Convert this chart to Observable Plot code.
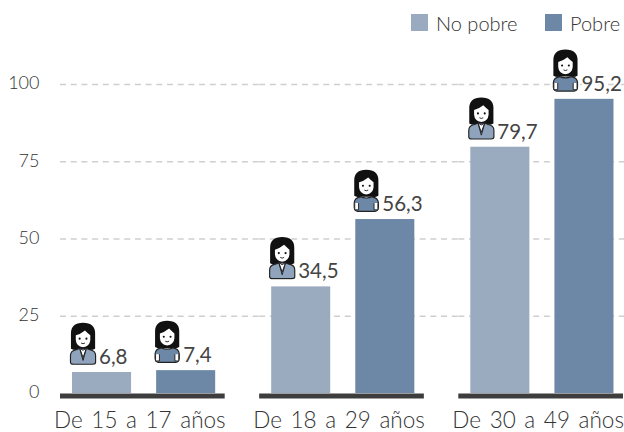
<!DOCTYPE html>
<html><head><meta charset="utf-8">
<script src="https://cdn.jsdelivr.net/npm/d3@7"></script>
<script src="https://cdn.jsdelivr.net/npm/@observablehq/plot@0.6"></script>
<style>
html,body{margin:0;padding:0;background:#fff;width:624px;height:432px;overflow:hidden}
#legend{height:36px;position:relative;font:300 20px Lato,sans-serif;color:#333}
#legend .s{position:absolute;top:14px;width:17px;height:17px}
#legend .t{position:absolute;top:11px;line-height:24px;white-space:nowrap}
svg{display:block}
.cat text{word-spacing:2.5px}
</style></head><body>
<div id="legend"></div>
<div id="chart"></div>
<script>
const groups = ["De 15 a 17 años", "De 18 a 29 años", "De 30 a 49 años"];
const series = ["No pobre", "Pobre"];
const noPobre = [6.8, 34.5, 79.7];
const pobre = [7.4, 56.3, 95.2];
const colors = ["#9aaabf", "#6d88a6"];
const yTicks = [0, 25, 50, 75, 100];

const rows = groups.flatMap((g, i) => [
  {group: g, serie: series[0], value: noPobre[i]},
  {group: g, serie: series[1], value: pobre[i]}
]);

function icon(suit) {
  const body = suit
    ? `<path d="M2 42 V35 Q2 30 8 29 L12 27.5 L18 27.5 L22 29 Q28 30 28 35 V42 Q28 44 25 44 H5 Q2 44 2 42Z" fill="#8fa3bd" stroke="#222" stroke-width="1.2"/>
       <path d="M11.5 27.5 L15 37 L18.5 27.5 L15 29.5Z" fill="#fff" stroke="#222" stroke-width="1"/>
       <path d="M11.5 27.5 L15 40 L18.5 27.5" fill="none" stroke="#222" stroke-width="1"/>`
    : `<path d="M2.5 40 V35 Q3 30 9 29 Q15 31.5 21 29 Q27 30 27.5 35 V40 Q27 44 24 44 H6 Q3 44 2.5 40Z" fill="#6d88a6" stroke="#222" stroke-width="1.2"/>
       <path d="M3 35.5 V42.5 H7 V35.5 M27 35.5 V42.5 H23 V35.5" fill="#fff" stroke="#222" stroke-width="1"/>`;
  const svg = `<svg xmlns="http://www.w3.org/2000/svg" viewBox="0 0 30 45" width="30" height="45">
    <rect x="0" y="20" width="30" height="25" fill="#fff"/>
    <path d="M2.5 28 V12 Q2.5 1 15 1 Q27.5 1 27.5 12 V28 Q24 30 20 29 H10 Q6 30 2.5 28Z" fill="#111"/>
    <path d="M7.5 14 Q12 13 17 9 Q20 12 22.5 14 V19 Q22 25.5 15 26.5 Q8 25.5 7.5 19Z" fill="#fff"/>
    <circle cx="11.5" cy="17.5" r="1.1" fill="#111"/><circle cx="18.5" cy="17.5" r="1.1" fill="#111"/>
    <path d="M13 22 Q15 23.5 17 22" fill="none" stroke="#111" stroke-width="0.9"/>
    ${body}</svg>`;
  return "data:image/svg+xml;utf8," + encodeURIComponent(svg);
}
const icons = {[series[0]]: icon(true), [series[1]]: icon(false)};

const chart = Plot.plot({
  width: 624, height: 396,
  marginLeft: 60, marginRight: 1, marginTop: 48, marginBottom: 39,
  style: {fontFamily: "Lato, sans-serif", background: "#fff", overflow: "hidden"},
  fx: {domain: groups, label: null, paddingInner: 0.173, paddingOuter: 0, round: false, axis: null},
  x: {domain: series, paddingInner: 0.298, paddingOuter: 0.128, align: 0.558, round: false, axis: null},
  y: {domain: [0, 100], ticks: yTicks, axis: null},
  color: {domain: series, range: colors},
  marks: [
    Plot.ruleY(yTicks.slice(1), {stroke: "#cfcfcf", strokeWidth: 1.5, strokeDasharray: "6 4.7", insetRight: -35}),
    Plot.axisY({ticks: yTicks, tickSize: 0, tickPadding: 21, label: null, fontSize: 18, fontWeight: 300, color: "#333", anchor: "left", facetAnchor: "left", dy: -1}),
    Plot.barY(rows, {fx: "group", x: "serie", y: "value", fill: "serie"}),
    Plot.ruleY([0], {stroke: "#3d3d3d", strokeWidth: 5, dy: 2.5}),
    Plot.text(groups, {fx: d => d, frameAnchor: "bottom", text: d => d, dy: 34, dx: -3, fontSize: 22.5, fontWeight: 300, fill: "#333", className: "cat"}),
    Plot.text(rows, {fx: "group", x: "serie", y: "value", text: d => d.value.toFixed(1).replace(".", ","), textAnchor: "start", dx: -3, dy: -15, fontSize: 20.5, fontWeight: 400, fill: "#444", stroke: "#fff", strokeWidth: 4, paintOrder: "stroke"}),
    Plot.image(rows, {fx: "group", x: "serie", y: "value", src: d => icons[d.serie], width: 29, height: 43.5, dx: -19, dy: -29})
  ]
});
document.getElementById("chart").append(chart);

const legend = document.getElementById("legend");
const pos = [[411, 436], [545, 570]];
series.forEach((s, i) => {
  const sw = document.createElement("div"); sw.className = "s"; sw.style.left = pos[i][0] + "px"; sw.style.background = colors[i];
  const t = document.createElement("div"); t.className = "t"; t.style.left = pos[i][1] + "px"; t.textContent = s;
  legend.append(sw, t);
});
</script>
</body></html>
